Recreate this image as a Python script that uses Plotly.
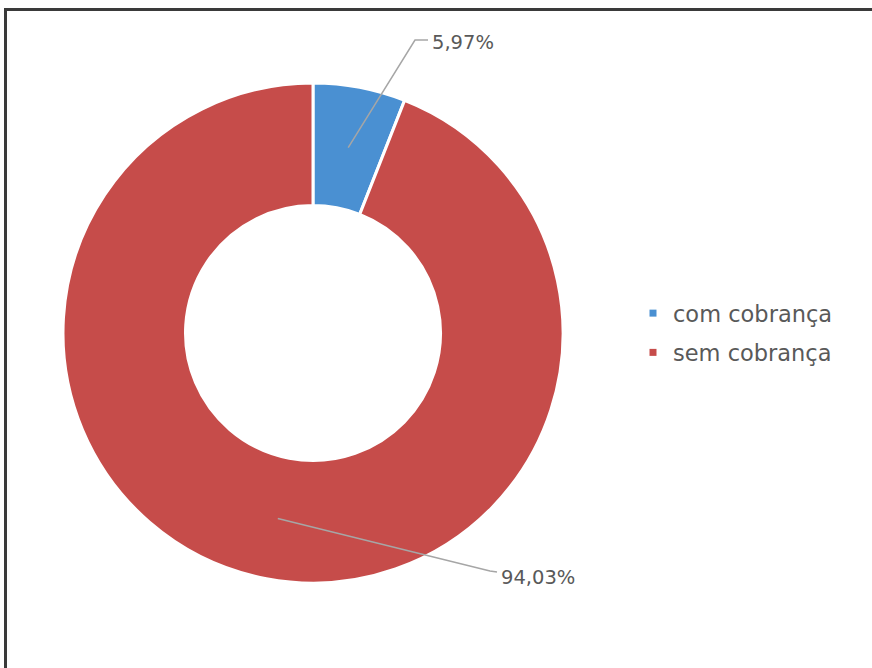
import math
import plotly.graph_objects as go

# ---- data ----
labels = ["com cobrança", "sem cobrança"]
values = [5.97, 94.03]
value_texts = ["5,97%", "94,03%"]
colors = ["#4A90D2", "#C64C4A"]

W, H = 872, 668
cx, cy, R = 313, 333, 250          # donut centre / radius in px
hole = 0.51

def px(x):
    return x / W

def py(y):
    return 1 - y / H

fig = go.Figure(go.Pie(
    labels=labels, values=values, sort=False, direction="clockwise", rotation=0,
    hole=hole, textinfo="none", hoverinfo="label+percent", showlegend=False,
    marker=dict(colors=colors, line=dict(color="white", width=3)),
    domain=dict(x=[px(cx - R), px(cx + R)], y=[py(cy + R), py(cy - R)]),
))

# legend entries (square markers), one group each for spacing control
for i, (lab, col) in enumerate(zip(labels, colors)):
    fig.add_trace(go.Scatter(x=[None], y=[None], mode="markers", name=lab,
                             legendgroup=f"g{i}", hoverinfo="skip",
                             marker=dict(symbol="square", size=7, color=col)))

# leader lines from slice mid-angles
total = sum(values)
label_anchor = [(415, 40, 428, 40, 430, 42), (490, 571, 497, 572, 499, 577)]
shapes = []
annotations = []
cum = 0
rmid = R * (1 + hole) / 2
for v, t, (bx, by, ex, ey, tx, ty) in zip(values, value_texts, label_anchor):
    mid = (cum + v / 2) / total * 2 * math.pi
    cum += v
    sx = cx + rmid * math.sin(mid)
    sy = cy - rmid * math.cos(mid)
    path = f"M {px(sx)},{py(sy)} L {px(bx)},{py(by)} L {px(ex)},{py(ey)}"
    shapes.append(dict(type="path", xref="paper", yref="paper", path=path,
                       line=dict(color="#A6A6A6", width=1.5)))
    annotations.append(dict(x=px(tx), y=py(ty), xref="paper", yref="paper",
                            text=t, showarrow=False, xanchor="left", yanchor="middle",
                            font=dict(family="DejaVu Sans", size=19.5, color="#595959")))

# outer frame drawn with axis lines (left and top edges only)
frame_axis = dict(showline=True, linecolor="#3A3A3A", linewidth=3, showgrid=False,
                  zeroline=False, showticklabels=False, ticks="", showspikes=False,
                  fixedrange=True, mirror=False)
fig.update_layout(
    width=W, height=H, margin=dict(l=0, r=0, t=0, b=0),
    paper_bgcolor="white", plot_bgcolor="rgba(0,0,0,0)",
    xaxis=dict(domain=[px(7), 1], side="top", **frame_axis),
    yaxis=dict(domain=[0, py(11)], side="left", **frame_axis),
    hovermode="closest",
    shapes=shapes, annotations=annotations,
    legend=dict(x=px(633), y=py(333), xanchor="left", yanchor="middle",
                font=dict(family="DejaVu Sans", size=22.5, color="#595959"),
                itemwidth=30, tracegroupgap=7, bgcolor="rgba(0,0,0,0)"),
    font=dict(family="DejaVu Sans"),
)

fig.write_html("out.html", config={"displayModeBar": False},
               post_script="document.body.style.margin='0';document.body.style.overflow='hidden';")
